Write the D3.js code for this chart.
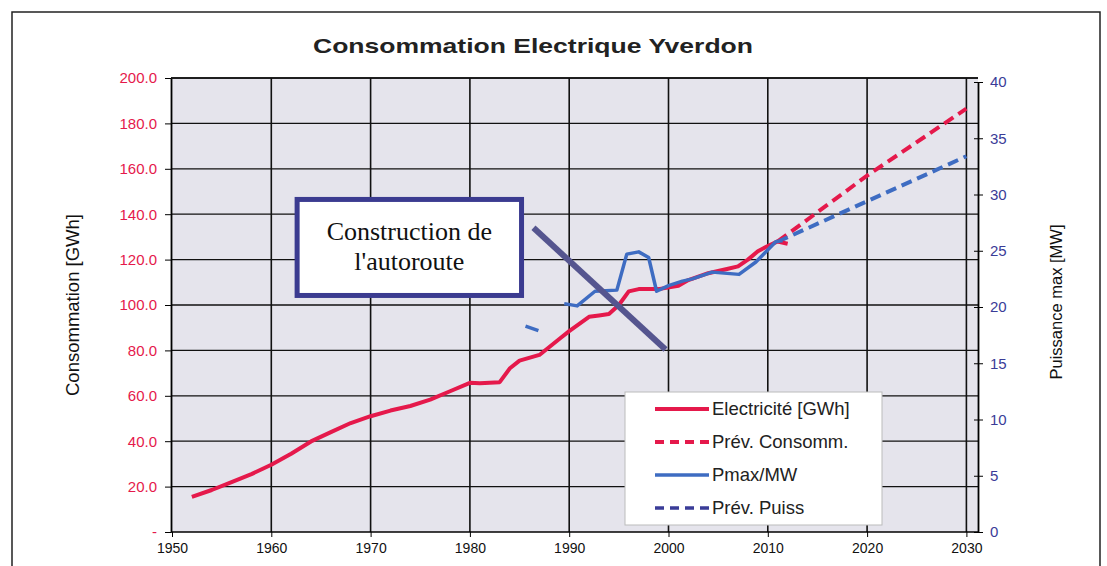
<!DOCTYPE html>
<html>
<head>
<meta charset="utf-8">
<script src="https://cdn.jsdelivr.net/npm/d3@7"></script>
<style>
  body { margin: 0; background: #fff; }
  svg { font-family: Arial, "Liberation Sans", sans-serif; }
</style>
</head>
<body>
<div id="chart"></div>
<script>
// --- data ---
const elecYears  = [1952, 1954, 1956, 1958, 1960, 1962, 1964, 1966, 1968, 1970, 1972, 1974, 1976, 1978, 1980, 1981, 1983, 1984, 1985, 1987, 1989, 1990, 1992, 1993, 1994, 1995, 1996, 1997, 1999, 2001, 2002, 2004, 2006, 2007, 2008, 2009, 2010, 2011, 2012];
const elecValues = [15.5, 18.5, 22, 25.5, 29.6, 34.5, 39.9, 44, 48, 51, 53.5, 55.5, 58.3, 62, 65.7, 65.5, 66, 72, 75.5, 78, 85, 88.5, 94.8, 95.4, 96, 100, 106, 107, 107, 108.5, 111, 114, 116, 117, 120, 123.7, 126, 128, 127];

const prevConsYears  = [2011, 2020, 2030];
const prevConsValues = [128, 157, 186.5];

const pmaxEarlyYears  = [1985.6, 1986.9];
const pmaxEarlyValues = [18.3, 17.9];

const pmaxYears  = [1989.5, 1990.8, 1992.6, 1994.8, 1995.8, 1997, 1998, 1998.8, 2000, 2001.4, 2002.4, 2004.4, 2007.1, 2008.8, 2010.8, 2011.5];
const pmaxValues = [20.3, 20.1, 21.4, 21.5, 24.7, 24.9, 24.4, 21.4, 21.9, 22.3, 22.5, 23.1, 22.9, 24, 25.8, 25.9];

const prevPuissYears  = [2011, 2020, 2030];
const prevPuissValues = [25.8, 29.4, 33.4];

const xTicks = [1950, 1960, 1970, 1980, 1990, 2000, 2010, 2020, 2030];
const leftTicks = [0, 20, 40, 60, 80, 100, 120, 140, 160, 180, 200];
const rightTicks = [0, 5, 10, 15, 20, 25, 30, 35, 40];

const legendLabels = ['Electricité [GWh]', 'Prév. Consomm.', 'Pmax/MW', 'Prév. Puiss'];

// annotation "Construction de l'autoroute" in data units
const noteBox = { x0: 1962.6, x1: 1985.2, y0: 146.5, y1: 104.2 };
const noteLine = [[1986.4, 134], [1999.7, 80.4]];

const red = '#e5194b';
const blue = '#3e6cc2';
const darkBlue = '#3a3c98';

const W = 1107, H = 566;
const plot = { left: 171, right: 978, top: 78, bottom: 532 };

const svg = d3.select('#chart').append('svg')
  .attr('width', W).attr('height', H);

// outer frame of the scan
svg.append('path')
  .attr('d', `M12,${H + 5} V12 H1100 V${H + 5}`)
  .attr('fill', 'none').attr('stroke', '#222').attr('stroke-width', 1.5);

const x = d3.scaleLinear().domain([1950, 2030]).range([172, 966.4]);
const yL = d3.scaleLinear().domain([0, 200]).range([plot.bottom, plot.top]);
const yR = d3.scaleLinear().domain([0, 40]).range([plot.bottom, plot.top + 4]);

// plot background
svg.append('rect')
  .attr('x', plot.left).attr('y', plot.top)
  .attr('width', plot.right - plot.left).attr('height', plot.bottom - plot.top)
  .attr('fill', '#e5e4ec');

// grid
svg.append('g').selectAll('line').data(leftTicks.slice(1))
  .join('line')
  .attr('x1', plot.left).attr('x2', plot.right)
  .attr('y1', d => yL(d)).attr('y2', d => yL(d))
  .attr('stroke', '#111').attr('stroke-width', 1.3);
svg.append('g').selectAll('line').data(xTicks.slice(1))
  .join('line')
  .attr('x1', d => x(d)).attr('x2', d => x(d))
  .attr('y1', plot.top).attr('y2', plot.bottom)
  .attr('stroke', '#111').attr('stroke-width', 1.6);

// axes
const axisBottom = svg.append('g')
  .attr('transform', `translate(0,${plot.bottom})`)
  .call(d3.axisBottom(x).tickValues(xTicks).tickFormat(d3.format('d')).tickSize(5).tickSizeOuter(0));
axisBottom.select('.domain').attr('d', `M${plot.left},0H${plot.right}`).attr('stroke-width', 1.6);
axisBottom.selectAll('text').attr('font-size', 14).attr('fill', '#111').attr('dy', '0.95em');

const axisLeft = svg.append('g')
  .attr('transform', `translate(${plot.left},0)`)
  .call(d3.axisLeft(yL).tickValues(leftTicks)
    .tickFormat(d => d === 0 ? '-' : d3.format('.1f')(d)).tickSize(6).tickSizeOuter(0));
axisLeft.select('.domain').attr('stroke-width', 1.8);
axisLeft.selectAll('text').attr('font-size', 15).attr('fill', red).attr('x', -14);

const axisRight = svg.append('g')
  .attr('transform', `translate(${plot.right},0)`)
  .call(d3.axisRight(yR).tickValues(rightTicks).tickSize(5).tickSizeOuter(0));
axisRight.select('.domain').attr('stroke-width', 1.8);
axisRight.selectAll('.tick line').attr('x1', -4);
axisRight.selectAll('text').attr('font-size', 15).attr('fill', darkBlue).attr('x', 12);

// top border of plot area
svg.append('line')
  .attr('x1', plot.left).attr('x2', plot.right)
  .attr('y1', plot.top).attr('y2', plot.top)
  .attr('stroke', '#111').attr('stroke-width', 1.6);

// axis titles
svg.append('text')
  .attr('transform', `translate(79,${(plot.top + plot.bottom) / 2}) rotate(-90)`)
  .attr('text-anchor', 'middle').attr('font-size', 18)
  .attr('textLength', 182).attr('lengthAdjust', 'spacingAndGlyphs')
  .attr('fill', '#111').text('Consommation [GWh]');
svg.append('text')
  .attr('transform', `translate(1062,${(plot.top + plot.bottom) / 2 - 3}) rotate(-90)`)
  .attr('text-anchor', 'middle').attr('font-size', 16.5)
  .attr('fill', '#111').text('Puissance  max [MW]');

// title
svg.append('text')
  .attr('x', 533).attr('y', 53).attr('text-anchor', 'middle')
  .attr('font-size', 21).attr('font-weight', 'bold').attr('fill', '#222')
  .attr('textLength', 440).attr('lengthAdjust', 'spacingAndGlyphs')
  .text('Consommation Electrique Yverdon');

// series
const lineOf = (xs, ys, scale) => d3.line()
  .x((d, i) => x(xs[i])).y(d => scale(d))(ys);

svg.append('path').attr('d', lineOf(prevConsYears, prevConsValues, yL))
  .attr('fill', 'none').attr('stroke', red).attr('stroke-width', 4).attr('stroke-dasharray', '11,6');
svg.append('path').attr('d', lineOf(prevPuissYears, prevPuissValues, yR))
  .attr('fill', 'none').attr('stroke', blue).attr('stroke-width', 4).attr('stroke-dasharray', '11,6');
svg.append('path').attr('d', lineOf(elecYears, elecValues, yL))
  .attr('fill', 'none').attr('stroke', red).attr('stroke-width', 4).attr('stroke-linejoin', 'round');
svg.append('path').attr('d', lineOf(pmaxEarlyYears, pmaxEarlyValues, yR))
  .attr('fill', 'none').attr('stroke', blue).attr('stroke-width', 3.5);
svg.append('path').attr('d', lineOf(pmaxYears, pmaxValues, yR))
  .attr('fill', 'none').attr('stroke', blue).attr('stroke-width', 3.5).attr('stroke-linejoin', 'round');

// annotation
svg.append('line')
  .attr('x1', x(noteLine[0][0])).attr('y1', yL(noteLine[0][1]))
  .attr('x2', x(noteLine[1][0])).attr('y2', yL(noteLine[1][1]))
  .attr('stroke', '#55558f').attr('stroke-width', 6);
svg.append('rect')
  .attr('x', x(noteBox.x0)).attr('y', yL(noteBox.y0))
  .attr('width', x(noteBox.x1) - x(noteBox.x0)).attr('height', yL(noteBox.y1) - yL(noteBox.y0))
  .attr('fill', '#fff').attr('stroke', '#3b3b90').attr('stroke-width', 5);
const noteCx = (x(noteBox.x0) + x(noteBox.x1)) / 2;
[['Construction de', 41], ["l'autoroute", 71]].forEach(([t, dy]) => {
  svg.append('text')
    .attr('x', noteCx).attr('y', yL(noteBox.y0) + dy).attr('text-anchor', 'middle')
    .style('font-family', '"Liberation Serif", "Times New Roman", serif')
    .attr('font-size', 26).attr('fill', '#111').text(t);
});

// legend
const legend = svg.append('g').attr('transform', 'translate(625,392)');
legend.append('rect')
  .attr('width', 257).attr('height', 133)
  .attr('fill', '#fff').attr('stroke', '#bbb').attr('stroke-width', 1);
const legendStyles = [
  { color: red, dash: null },
  { color: red, dash: '9,6' },
  { color: blue, dash: null },
  { color: darkBlue, dash: '9,6' }
];
legendLabels.forEach((label, i) => {
  const yy = 17 + i * 33;
  legend.append('line')
    .attr('x1', 30).attr('x2', 84).attr('y1', yy).attr('y2', yy)
    .attr('stroke', legendStyles[i].color).attr('stroke-width', i < 2 ? 4 : 3.5)
    .attr('stroke-dasharray', legendStyles[i].dash);
  legend.append('text')
    .attr('x', 87).attr('y', yy + 6)
    .attr('font-size', 18.5).attr('fill', '#222').text(label);
});
</script>
</body>
</html>
